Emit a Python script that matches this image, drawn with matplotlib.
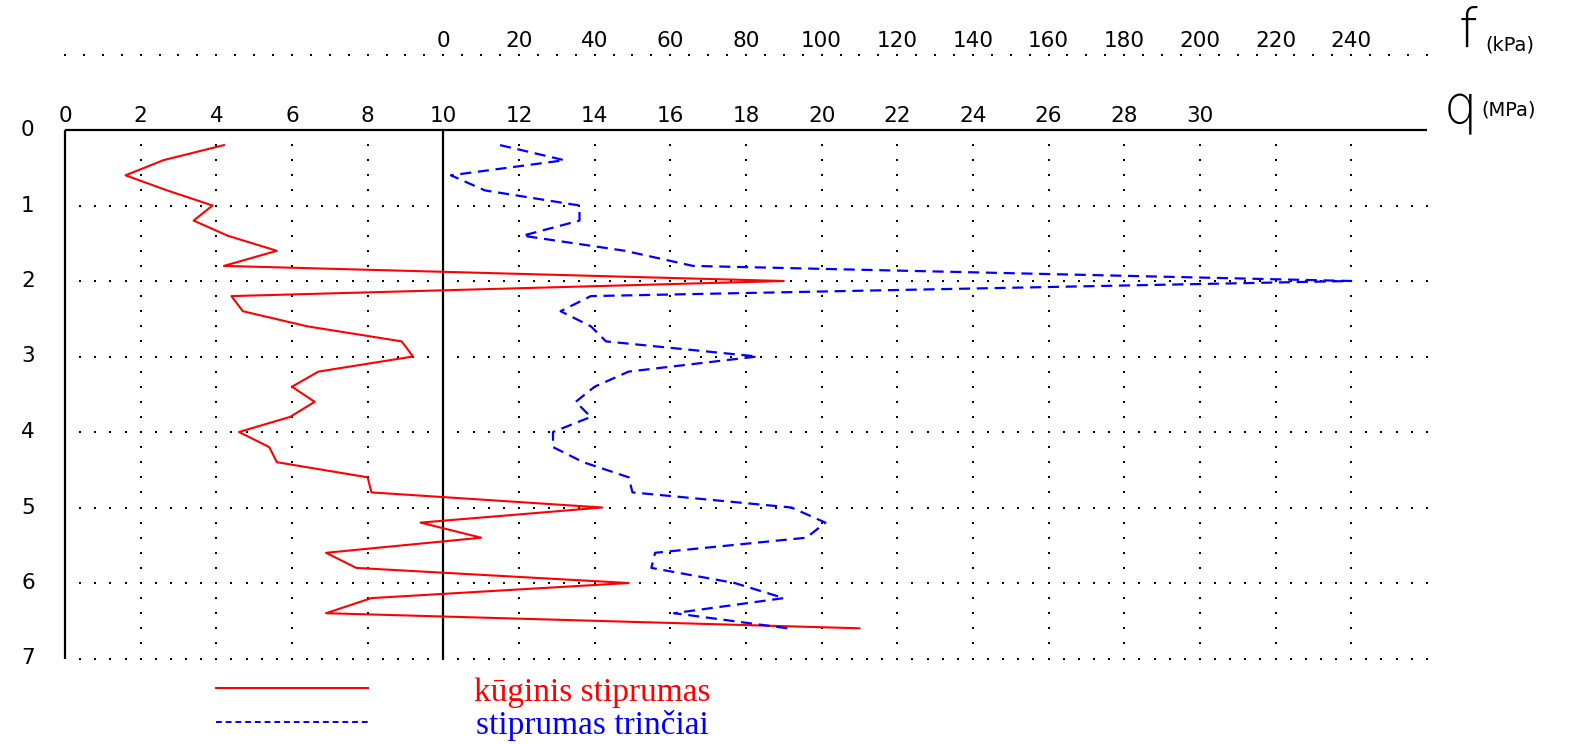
import matplotlib
matplotlib.use("Agg")
import matplotlib.pyplot as plt
import numpy as np

# depth of readings (m)
depth = [0.2, 0.4, 0.6, 0.8, 1.0, 1.2, 1.4, 1.6, 1.8, 2.0, 2.2, 2.4, 2.6, 2.8, 3.0, 3.2, 3.4,
         3.6, 3.8, 4.0, 4.2, 4.4, 4.6, 4.8, 5.0, 5.2, 5.4, 5.6, 5.8, 6.0, 6.2, 6.4, 6.6]

# cone resistance q (MPa)
q_cone = [4.2, 2.6, 1.6, 2.7, 3.9, 3.4, 4.3, 5.6, 4.2, 19.0, 4.4, 4.7, 6.4, 8.9, 9.2, 6.7, 6.0,
          6.6, 5.95, 4.6, 5.4, 5.6, 8.0, 8.1, 14.2, 9.4, 11.0, 6.9, 7.7, 14.9, 8.1, 6.9, 21.0]

# sleeve friction f (kPa)
f_sleeve = [15, 32, 2, 11, 36, 36, 21, 48, 66, 240, 39, 31, 39, 43, 83, 49, 40,
            35, 39, 29, 29, 37, 49, 50, 92, 101, 96, 56, 55, 77, 90, 61, 91]

q_ticks = list(range(0, 31, 2))
f_ticks = list(range(0, 241, 20))
depth_ticks = list(range(0, 8))

num_font = "DejaVu Sans"

# figure: 1573x744 px, one axes over the full canvas, q in MPa on x, depth on y
fig = plt.figure(figsize=(15.73, 7.44), dpi=100)
ax = fig.add_axes([0, 0, 1, 1])
px_q = 37.83
px_d = 75.5
ax.set_xlim(-65 / px_q, (1573 - 65) / px_q)
ax.set_ylim((744 - 130) / px_d, -130 / px_d)
ax.axis("off")

# dotted grid
dot = dict(ls="none", marker="s", ms=1.7, color="black", mew=0)
for qv in range(2, 36, 2):
    if qv == 10:
        continue
    dd = np.arange(0.2, 7.0, 0.2)
    ax.plot([qv] * len(dd), dd, **dot)
for dv in range(1, 8):
    qq = np.arange(0.4, 36.01, 0.4)
    ax.plot(qq, [dv] * len(qq), **dot)
qq = np.arange(0, 36.01, 0.5)
ax.plot(qq, [-1.0] * len(qq), **dot)

# axis lines
ax.plot([0, 36], [0, 0], color="black", lw=1.6, solid_capstyle="butt")
ax.plot([0, 0], [0, 7], color="black", lw=1.6, solid_capstyle="butt")
ax.plot([10, 10], [0, 7], color="black", lw=1.6, solid_capstyle="butt")

# tick labels
for t in q_ticks:
    ax.text(t, -0.18, str(t), ha="center", va="center", fontsize=15.5, family=num_font)
for t in f_ticks:
    ax.text(10 + t / 10, -1.18, str(t), ha="center", va="center", fontsize=15.5, family=num_font)
for t in depth_ticks:
    ax.text(-0.98, t, str(t), ha="center", va="center", fontsize=15.5, family=num_font)

ax.text(36.85, -1.3, "f", ha="left", va="center", fontsize=38, family=num_font,
        fontweight="light")
ax.text(37.55, -1.12, "(kPa)", ha="left", va="center", fontsize=14, family=num_font)
ax.text(36.45, -0.28, "q", ha="left", va="center", fontsize=38, family=num_font,
        fontweight="light")
ax.text(37.45, -0.27, "(MPa)", ha="left", va="center", fontsize=14, family=num_font)

# data
ax.plot(q_cone, depth, color="red", lw=1.5)
ax.plot([10 + v / 10 for v in f_sleeve], depth, color="blue", lw=1.6, dashes=(5, 3))

# legend
ax.plot([4, 8], [7.39, 7.39], color="red", lw=1.5)
ax.plot([4, 8], [7.84, 7.84], color="blue", lw=1.4, dashes=(3, 2))
ax.text(13.95, 7.46, "kūginis stiprumas", ha="center", va="center", color="red",
        fontsize=24, family="Liberation Serif")
ax.text(13.95, 7.89, "stiprumas trinčiai", ha="center", va="center", color="blue",
        fontsize=24, family="Liberation Serif")

fig.savefig("out.png", dpi=100)
